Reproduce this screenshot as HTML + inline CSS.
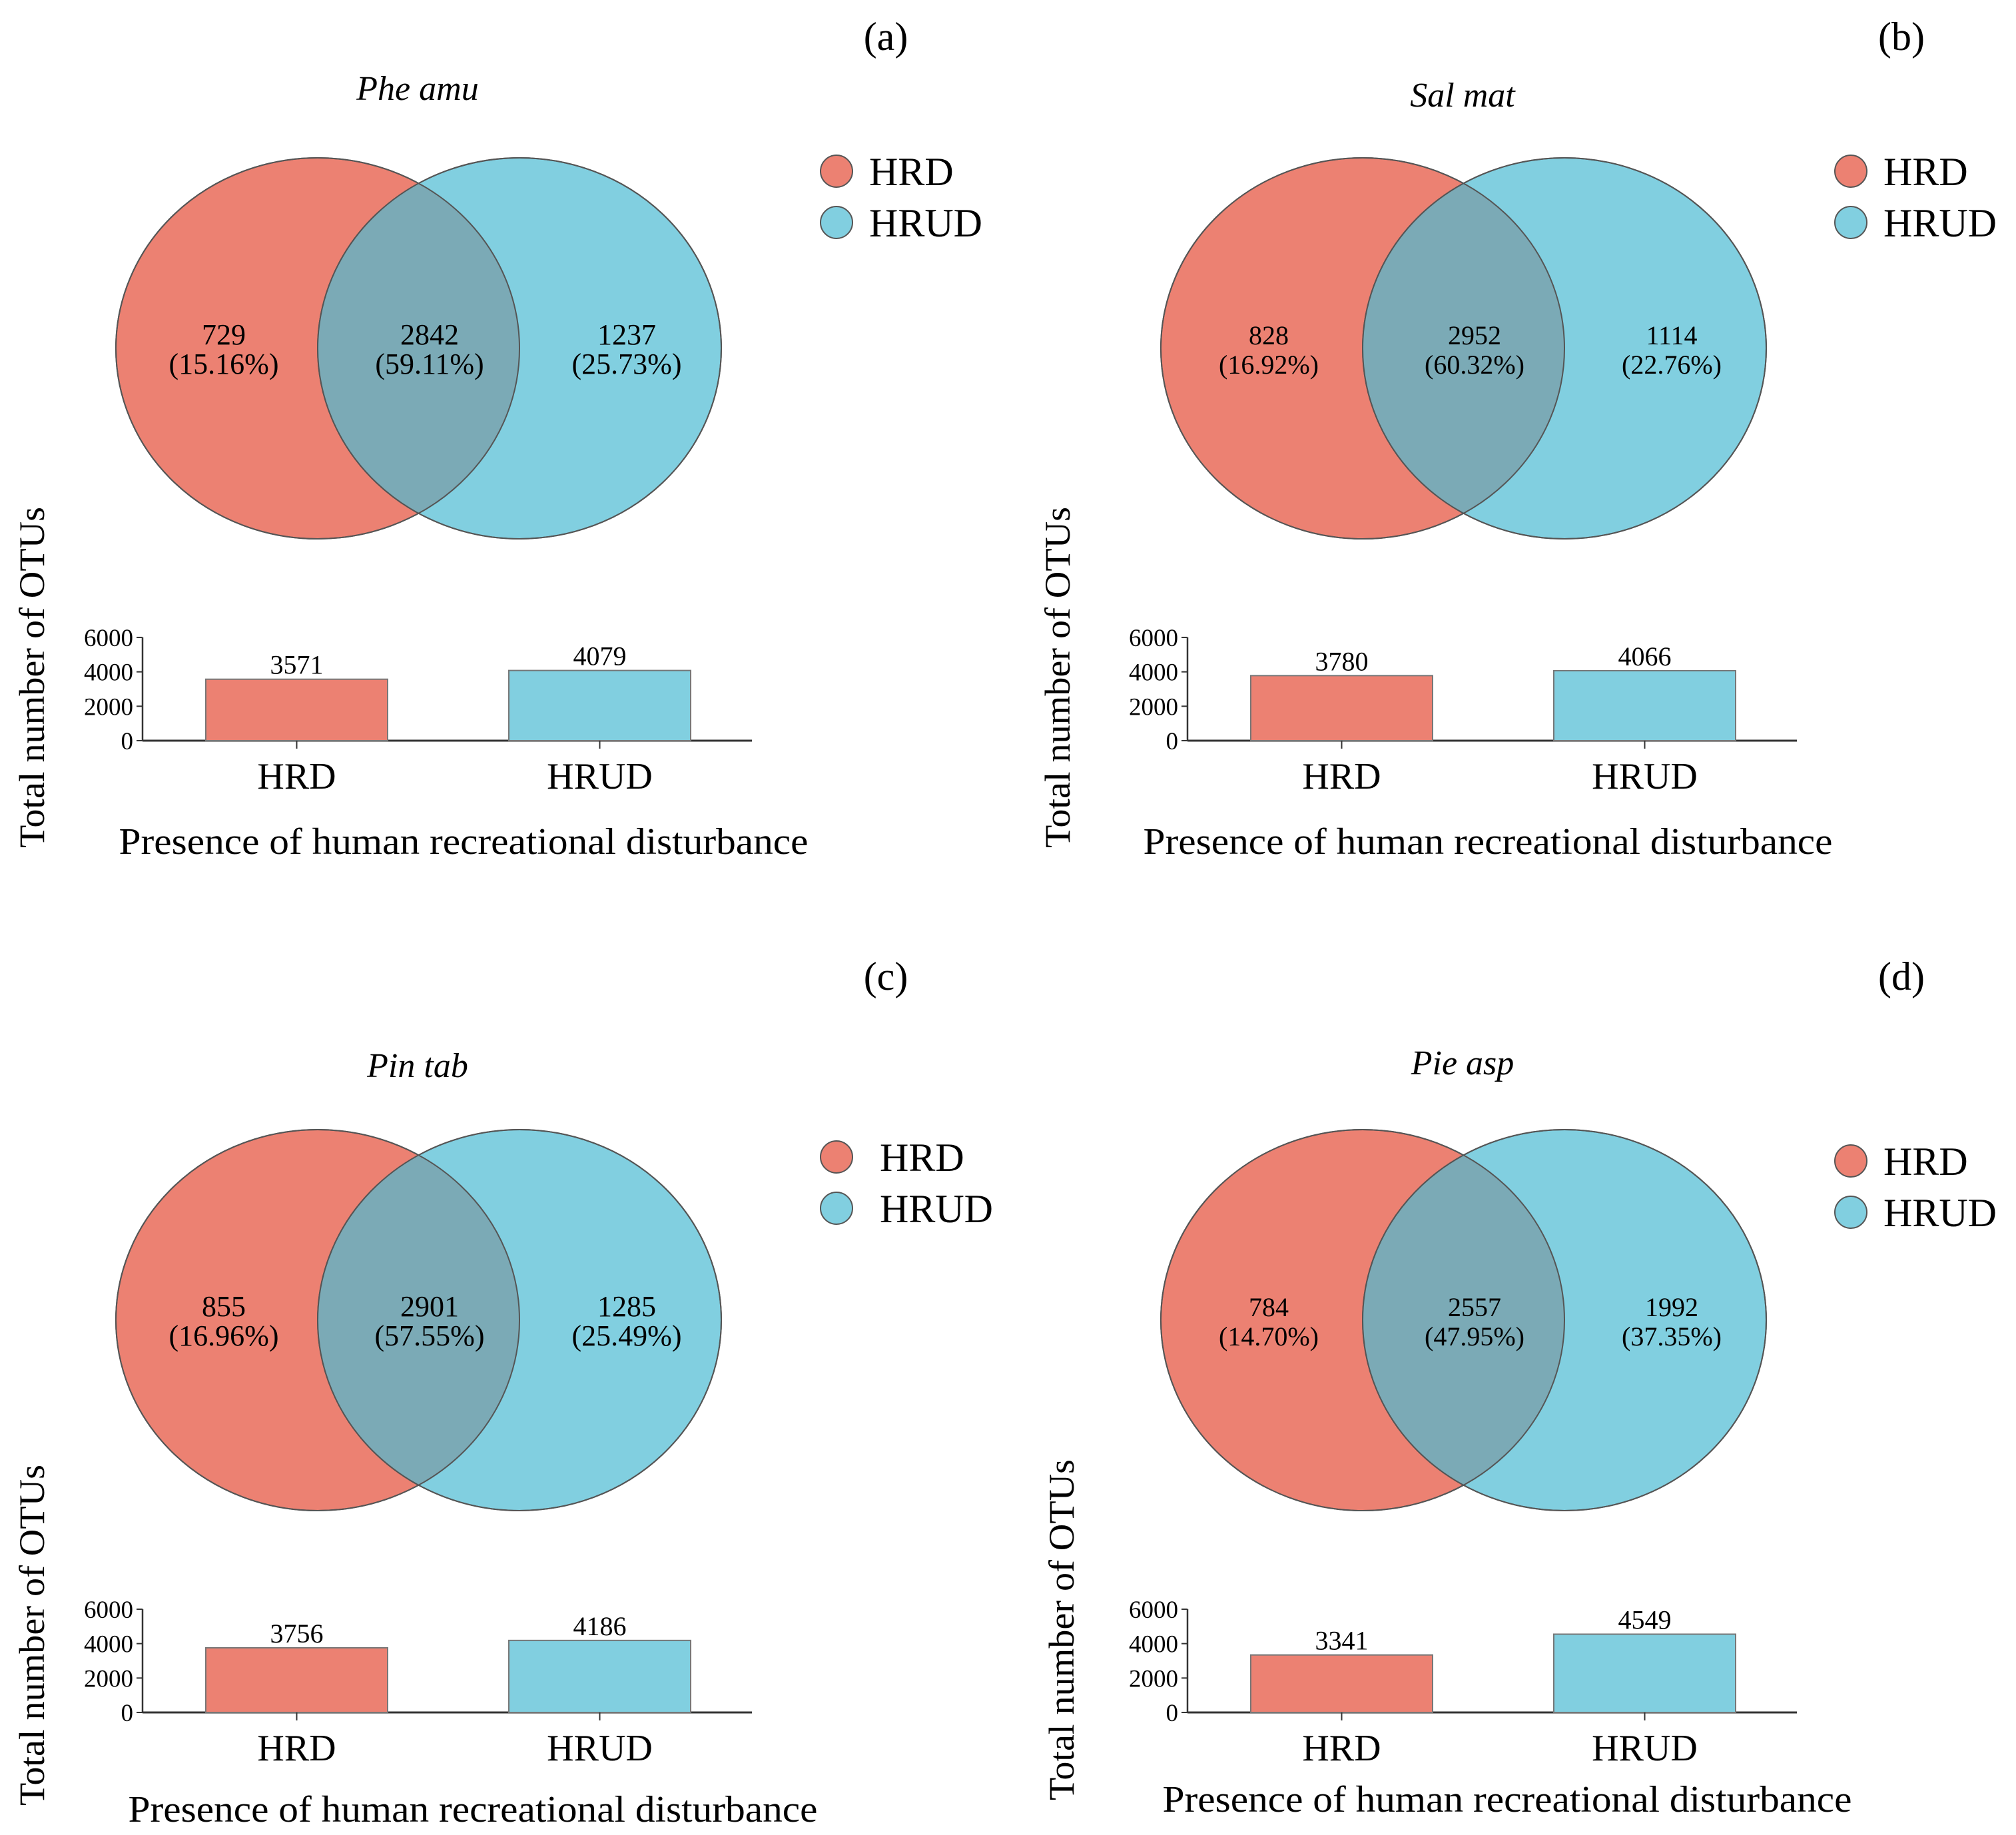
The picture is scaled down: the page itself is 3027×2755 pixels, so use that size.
<!DOCTYPE html>
<html><head><meta charset="utf-8"><style>
html,body{margin:0;padding:0;background:#fff;}
svg{display:block;font-family:"Liberation Serif",serif;}
</style></head><body>
<svg id="chart" width="3027" height="2755" viewBox="0 0 3027 2755" xmlns="http://www.w3.org/2000/svg"></svg>
<script>
const panelLetters = ['(a)','(b)','(c)','(d)'];
const speciesNames = ['Phe amu','Sal mat','Pin tab','Pie asp'];
const onlyHRD = [729, 828, 855, 784];
const onlyHRDPct = ['15.16%','16.92%','16.96%','14.70%'];
const sharedCount = [2842, 2952, 2901, 2557];
const sharedPct = ['59.11%','60.32%','57.55%','47.95%'];
const onlyHRUD = [1237, 1114, 1285, 1992];
const onlyHRUDPct = ['25.73%','22.76%','25.49%','37.35%'];
const barCategories = ['HRD','HRUD'];
const barHRD = [3571, 3780, 3756, 3341];
const barHRUD = [4079, 4066, 4186, 4549];
const yTicks = [0, 2000, 4000, 6000];
const yMax = 6000;

const NS = 'http://www.w3.org/2000/svg';
const svg = document.getElementById('chart');
function mk(tag, attrs, parent, text){
  const e = document.createElementNS(NS, tag);
  for (const k in attrs) e.setAttribute(k, attrs[k]);
  if (text !== undefined) e.textContent = text;
  (parent || svg).appendChild(e);
  return e;
}
const RED = '#EC8172', BLUE = '#81CFE0', STROKE = '#555';
// layout offsets per panel
const L = [
  {vx:0, vy:0, lx:0, ly:0, ttl:0, lab:0, lay:0, xt:0, xty:0, yl:0, yly:0},
  {vx:1569, vy:0, lx:1523, ly:0, ttl:10, lab:1525, lay:0, xt:1538, xty:0, yl:1540, yly:0},
  {vx:0, vy:1459, lx:0, ly:1480, ttl:1467, lab:0, lay:1411, xt:14, xty:1453, yl:0, yly:1438},
  {vx:1569, vy:1459, lx:1523, ly:1486, ttl:1463, lab:1525, lay:1411, xt:1567, xty:1438, yl:1546, yly:1430}
];

for (let i = 0; i < 4; i++) {
  const o = L[i];
  const g = mk('g', {});
  
  

  const lab = mk('text', {x:1330+o.lab, y:75+o.lay, 'font-size':60, 'text-anchor':'middle'}, g, panelLetters[i]);
  
  

  const ttl = mk('text', {x:627+o.vx, y:150+o.ttl, 'font-size':52, 'font-style':'italic', 'text-anchor':'middle'}, g, speciesNames[i]);
  
  

  // venn
  const cy = 523 + o.vy;
  const c1 = mk('ellipse', {cx:477+o.vx, cy:cy, rx:303, ry:286, fill:RED, stroke:STROKE, 'stroke-width':2}, g);
  
  
  const c2 = mk('ellipse', {cx:780+o.vx, cy:cy, rx:303, ry:286, fill:BLUE, 'fill-opacity':0.999, stroke:STROKE, 'stroke-width':2}, g);
  
  
  const cp = mk('clipPath', {id:'clip'+i}, g);
  mk('ellipse', {cx:477+o.vx, cy:cy, rx:303, ry:286}, cp);
  const ov = mk('ellipse', {cx:780+o.vx, cy:cy, rx:303, ry:286, fill:'#7BAAB6', 'clip-path':'url(#clip'+i+')'}, g);
  
  
  mk('ellipse', {cx:477+o.vx, cy:cy, rx:303, ry:286, fill:'none', stroke:STROKE, 'stroke-width':2}, g);
  mk('ellipse', {cx:780+o.vx, cy:cy, rx:303, ry:286, fill:'none', stroke:STROKE, 'stroke-width':2}, g);

  const vfs = (i % 2 === 1) ? 40 : 44;
  const vl = [[336, onlyHRD[i], onlyHRDPct[i], 'venn-label-hrd-only'],
              [645, sharedCount[i], sharedPct[i], 'venn-label-shared'],
              [941, onlyHRUD[i], onlyHRUDPct[i], 'venn-label-hrud-only']];
  vl.forEach(v => {
    const t = mk('text', {x:v[0]+o.vx, y:cy-6, 'font-size':vfs, 'text-anchor':'middle'}, g);
    
    
    mk('tspan', {x:v[0]+o.vx, dy:0}, t, String(v[1]));
    mk('tspan', {x:v[0]+o.vx, dy:44}, t, '(' + v[2] + ')');
  });

  // legend
  const leg = [[RED,'HRD',257],[BLUE,'HRUD',334]];
  leg.forEach(l => {
    const lg = mk('g', {}, g);
    
    
    mk('circle', {cx:1256+o.lx, cy:l[2]+o.ly, r:24, fill:l[0], stroke:STROKE, 'stroke-width':2}, lg);
    mk('text', {x:1305+o.lx+(i===2?16:0), y:l[2]+o.ly+21, 'font-size':60}, lg, l[1]);
  });

  // bar chart
  const y0 = 1112 + o.vy, yTop = 957 + o.vy;
  const yS = v => y0 - (v / yMax) * (y0 - yTop);
  const ax = 214 + o.vx;
  const yAxis = mk('line', {x1:ax, y1:yTop, x2:ax, y2:y0, stroke:'#333', 'stroke-width':2.5}, g);
  
  
  const xAxis = mk('line', {x1:ax, y1:y0, x2:1129+o.vx, y2:y0, stroke:'#333', 'stroke-width':3}, g);
  
  
  yTicks.forEach(t => {
    mk('line', {x1:ax-9, y1:yS(t), x2:ax, y2:yS(t), stroke:'#333', 'stroke-width':2}, g);
    const tl = mk('text', {x:ax-14, y:yS(t)+13, 'font-size':37, 'text-anchor':'end'}, g, String(t));
    
    
  });
  const vals = [barHRD[i], barHRUD[i]];
  const bx = [309, 764], bw = 273, cols = [RED, BLUE];
  vals.forEach((v, k) => {
    const r = mk('rect', {x:bx[k]+o.vx, y:yS(v), width:bw, height:y0-yS(v), fill:cols[k], stroke:'#777', 'stroke-width':2}, g);
    
    
    const cx = bx[k] + bw/2 + o.vx;
    const vt = mk('text', {x:cx, y:yS(v)-8, 'font-size':40, 'text-anchor':'middle'}, g, String(v));
    
    
    mk('line', {x1:cx, y1:y0, x2:cx, y2:y0+12, stroke:'#333', 'stroke-width':2}, g);
    const xl = mk('text', {x:cx, y:1184+o.vy, 'font-size':56, 'text-anchor':'middle'}, g, barCategories[k]);
    
    
  });

  const xt = mk('text', {x:696+o.xt, y:1282+o.xty, 'font-size':56, 'text-anchor':'middle', textLength:1035, lengthAdjust:'spacingAndGlyphs'}, g, 'Presence of human recreational disturbance');
  
  
  const ycx = 48 + o.yl, ycy = 1017 + o.yly;
  const yt = mk('text', {x:ycx, y:ycy, 'font-size':54, 'text-anchor':'middle', 'dominant-baseline':'central', textLength:512, lengthAdjust:'spacingAndGlyphs', transform:'rotate(-90 '+ycx+' '+ycy+')'}, g, 'Total number of OTUs');
  
  
}
</script>
</body></html>
